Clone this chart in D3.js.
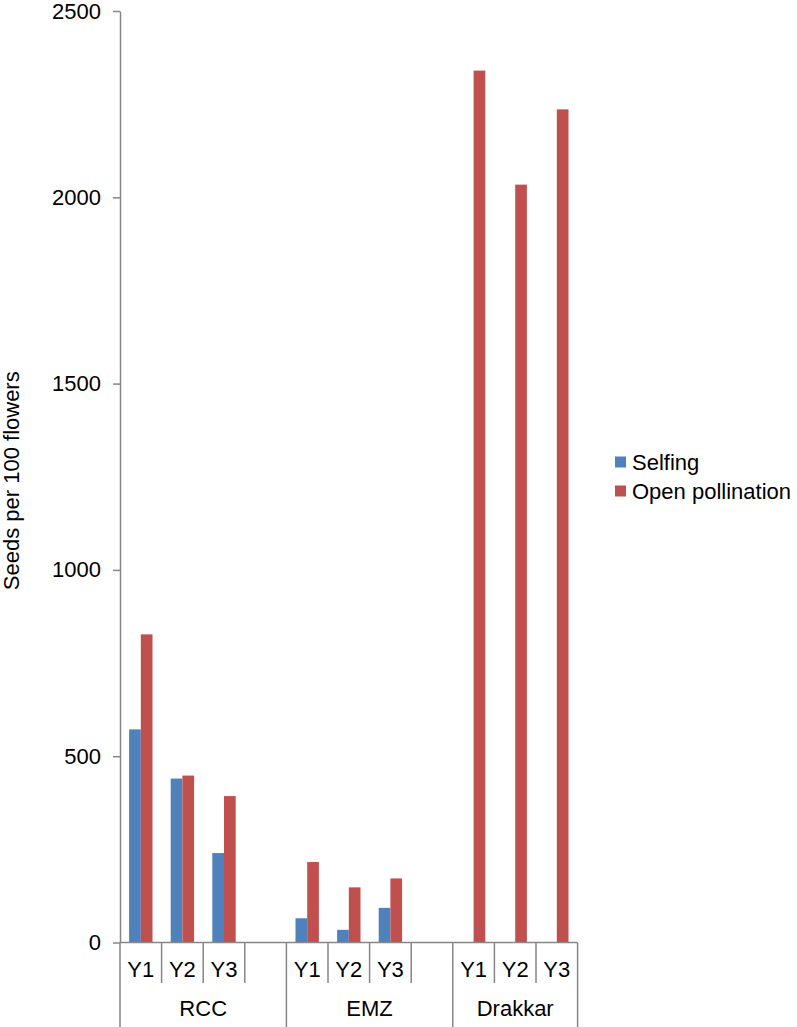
<!DOCTYPE html>
<html><head><meta charset="utf-8">
<script src="https://cdn.jsdelivr.net/npm/d3@7"></script>
<style>body{margin:0;background:#fff}svg{display:block}text{font-family:"Liberation Sans",Arial,sans-serif;fill:#000}</style>
</head><body>
<script>
const slotLabels = ["Y1","Y2","Y3","","Y1","Y2","Y3","","Y1","Y2","Y3"];
const slotGroups = ["RCC","RCC","RCC","RCC","EMZ","EMZ","EMZ","EMZ","Drakkar","Drakkar","Drakkar"];
const groups = ["RCC","EMZ","Drakkar"];
const seriesNames = ["Selfing","Open pollination"];
const selfing = [572,440,240,null,65,34,93,null,0,0,0];
const openPollination = [827,448,393,null,216,148,172,null,2340,2034,2236];
const yTicks = [0,500,1000,1500,2000,2500];
const colors = ["#4F81BD","#C0504D"];

const W=797,H=1027, FS=22;
const svg=d3.select("body").append("svg").attr("width",W).attr("height",H);
const x0=120, x1=577.6, yTop=11, yBot=942.5;
const slots=d3.range(slotLabels.length);
const x=d3.scaleBand().domain(slots).range([x0,x1]).padding(0);
const xs=d3.scaleBand().domain([0,1]).range([0,x.bandwidth()]).paddingInner(0).paddingOuter(0.778);
const y=d3.scaleLinear().domain([0,2500]).range([yBot,yTop]);
const axisColor="#868686";

// bars
const series=[selfing,openPollination];
series.forEach((vals,si)=>{
  svg.append("g").selectAll("rect").data(slots.filter(i=>vals[i]!=null&&vals[i]>0)).join("rect")
    .attr("x",i=>x(i)+xs(si)).attr("width",xs.bandwidth())
    .attr("y",i=>y(vals[i])).attr("height",i=>y(0)-y(vals[i]))
    .attr("fill",colors[si]);
});

// y axis
const ya=svg.append("g").attr("transform",`translate(${x0},0)`)
  .call(d3.axisLeft(y).tickValues(yTicks).tickSize(7).tickSizeOuter(0).tickPadding(12).tickFormat(d3.format("d")));
ya.select(".domain").attr("stroke",axisColor).attr("stroke-width",1.5);
ya.selectAll(".tick line").attr("stroke",axisColor).attr("stroke-width",1.5);
ya.selectAll(".tick text").attr("font-size",FS).attr("font-family","Liberation Sans, Arial, sans-serif").attr("fill","#000");

// x axis baseline
svg.append("line").attr("x1",x0).attr("x2",x1).attr("y1",y(0)).attr("y2",y(0)).attr("stroke",axisColor).attr("stroke-width",1.5);
// slot boundaries
const bounds=d3.range(slotLabels.length+1);
svg.append("g").selectAll("line").data(bounds).join("line")
  .attr("x1",i=>i<slots.length?x(i):x1).attr("x2",i=>i<slots.length?x(i):x1)
  .attr("y1",y(0)).attr("y2",i=>{
     const b=(i===0||i===slots.length||slotGroups[i]!==slotGroups[i-1]);
     return b?1027:983;})
  .attr("stroke",axisColor).attr("stroke-width",1.5);
// slot labels
svg.append("g").selectAll("text").data(slots.filter(i=>slotLabels[i])).join("text")
  .attr("x",i=>x(i)+x.bandwidth()/2).attr("y",977).attr("text-anchor","middle").attr("font-size",FS).text(i=>slotLabels[i]);
// group labels
svg.append("g").selectAll("text").data(groups).join("text")
  .attr("x",g=>{const idx=slots.filter(i=>slotGroups[i]===g);const a=x(idx[0]),b=x(idx[idx.length-1])+x.bandwidth();return (a+b)/2;})
  .attr("y",1016).attr("text-anchor","middle").attr("font-size",FS).text(g=>g);

// y label
svg.append("text").attr("transform",`translate(19,${(yTop+yBot)/2+4}) rotate(-90)`).attr("text-anchor","middle").attr("font-size",FS).text("Seeds per 100 flowers");

// legend
const leg=svg.append("g");
seriesNames.forEach((n,i)=>{
  const cy=462+i*29;
  leg.append("rect").attr("x",615).attr("y",cy-5.5).attr("width",11).attr("height",11).attr("fill",colors[i]);
  leg.append("text").attr("x",632).attr("y",cy+8).attr("font-size",FS).text(n);
});
</script>
</body></html>
